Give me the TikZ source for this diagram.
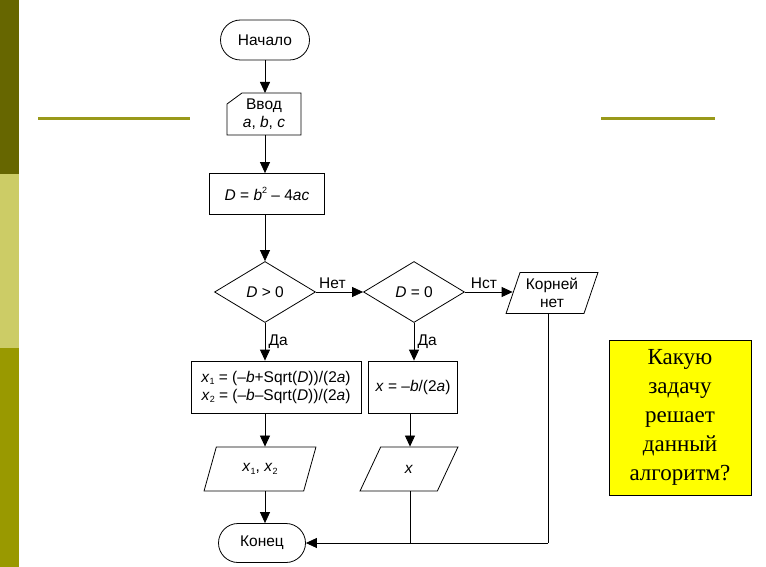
\documentclass[tikz,border=0pt]{standalone}
\usepackage{fontspec}
\setmainfont{Liberation Sans}
\newfontfamily\serifq{Liberation Serif}
\usetikzlibrary{arrows.meta,shapes.geometric,shapes.misc,positioning}
\newcommand{\sbx}[1]{\raisebox{-0.35ex}{\fontsize{9}{9}\selectfont #1}}
\newcommand{\spx}[1]{\raisebox{0.8ex}{\fontsize{9}{9}\selectfont #1}}
\begin{document}
\begin{tikzpicture}[x=1pt,y=-1pt,
  every node/.style={font=\fontsize{15.5}{18}\selectfont},
  box/.style={draw,line width=0.8pt,minimum width=#1,align=center,inner sep=2pt},
  para/.style={draw,line width=0.8pt,trapezium,trapezium left angle=70,trapezium right angle=110,align=center,inner sep=2pt,trapezium stretches=true},
  dia/.style={draw,line width=0.8pt,diamond,aspect=1.65,minimum width=101pt,minimum height=61pt,inner sep=0pt},
  term/.style={draw,line width=0.8pt,rounded rectangle,minimum height=40pt,inner sep=2pt},
  arr/.style={line width=0.8pt,-{Triangle[length=11pt,width=10pt]}},
  ln/.style={line width=0.8pt},
  lbl/.style={font=\fontsize{15.5}{18}\selectfont}]
\useasboundingbox (0,0) rectangle (766,567);
\fill[white] (0,0) rectangle (766,567);
\fill[fill={rgb,255:red,102;green,102;blue,0}] (0,0) rectangle (19,174);
\fill[fill={rgb,255:red,204;green,204;blue,102}] (0,174) rectangle (19,348);
\fill[fill={rgb,255:red,153;green,153;blue,0}] (0,348) rectangle (19,567);
\draw[line width=3pt,draw={rgb,255:red,153;green,153;blue,26}] (38,119) -- (190,119);
\draw[line width=3pt,draw={rgb,255:red,153;green,153;blue,26}] (601,119) -- (715,119);

\node[term,minimum width=93pt] (start) at (265,40) {Начало};
\draw[ln] (227,104) -- (242,93) -- (301,93) -- (301,135) -- (227,135) -- cycle;
\node[align=center] (inp) at (264,114) {Ввод\\\textit{a}, \textit{b}, \textit{c}};
\coordinate (inpT) at (265,93);
\coordinate (inpB) at (265,135);
\node[box=115pt,minimum height=41pt] (disc) at (267,194) {\textit{D} = \textit{b}\spx{2} – 4\textit{ac}};
\node[dia] (d1) at (265,292) {\textit{D} > 0};
\node[dia] (d2) at (414,292) {\textit{D} = 0};
\node[para,minimum width=92pt,minimum height=41pt] (none) at (552,293) {Корней\\нет};
\node[box=170pt,minimum height=52pt] (two) at (276,387) {\textit{x}\sbx{1} = (–\textit{b}+Sqrt(\textit{D}))/(2\textit{a})\\\textit{x}\sbx{2} = (–\textit{b}–Sqrt(\textit{D}))/(2\textit{a})};
\node[box=89pt,minimum height=52pt] (one) at (413,387) {\textit{x} = –\textit{b}/(2\textit{a})};
\node[para,minimum width=112pt,minimum height=44pt] (out2) at (260,469) {\textit{x}\sbx{1}, \textit{x}\sbx{2}};
\node[para,minimum width=98pt,minimum height=44pt] (out1) at (409,469) {\textit{x}};
\node[term,minimum width=91pt,minimum height=39pt] (end) at (262,543) {Конец};

\draw[arr] (start) -- (inpT);
\draw[arr] (inpB) -- (disc.north -| inpB);
\draw[arr] (disc.south -| d1.north) -- (d1.north);
\draw[arr] (d1.east) -- node[above,lbl,pos=0.35] {Нет} (d2.west);
\draw[arr] (d2.east) -- node[above,lbl,pos=0.4] {Нст} (none.west |- d2.east) ;
\draw[arr] (d1.south) -- node[right,lbl] {Да} (d1.south |- two.north);
\draw[arr] (d2.south) -- node[right,lbl] {Да} (d2.south |- one.north);
\draw[arr] (two.south -| d1.south) -- (out2.north -| d1.south);
\draw[arr] (one.south -| 410,0) -- (out1.north -| 410,0);
\draw[arr] (out2.south -| d1.south) -- (end.north -| d1.south);
\coordinate (j) at (548,543);
\draw[ln] (none.south -| j) -- (j);
\draw[arr] (j) -- (end.east);
\draw[ln] (out1.south -| 410,0) -- (410,543);

\node[draw,line width=0.8pt,fill={rgb,255:red,255;green,255;blue,0},minimum width=142pt,minimum height=155pt,align=center,font=\serifq\fontsize{23}{29}\selectfont] (q) at (680,417.5) {Какую\\задачу\\решает\\данный\\алгоритм?};
\end{tikzpicture}
\end{document}
